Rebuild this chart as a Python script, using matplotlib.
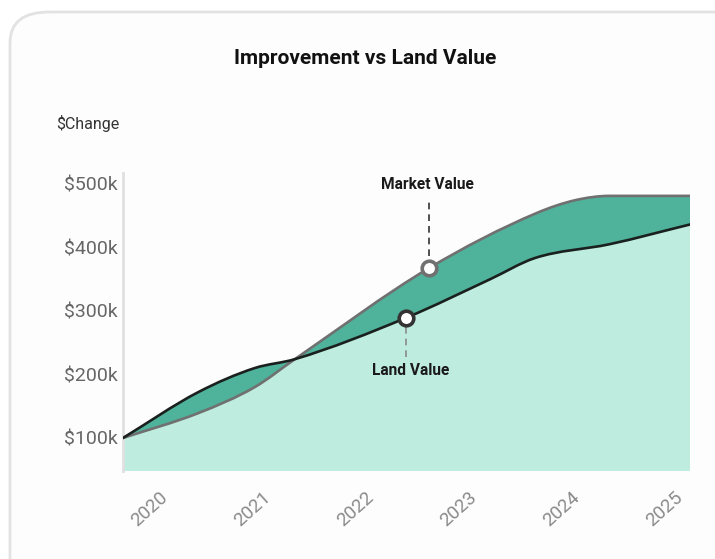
import numpy as np
import matplotlib
matplotlib.use("Agg")
import matplotlib.pyplot as plt
from matplotlib.path import Path
from matplotlib.patches import PathPatch, FancyBboxPatch

plt.rcParams['font.family'] = ['Roboto', 'DejaVu Sans']

# ---- data (values in $k) ----
land_years = [2019.59, 2020.32, 2020.87, 2021.26, 2022.34, 2023.16,
              2023.59, 2024.32, 2025.10]
land_value = [100, 172, 210, 224, 289, 350, 383, 405, 436]
market_years = [2019.59, 2020.32, 2020.87, 2021.26, 2022.56, 2023.61,
                2023.98, 2024.32, 2025.10]
market_value = [100, 139, 180, 224, 367, 454, 474, 481, 481]
tick_years = [2020, 2021, 2022, 2023, 2024, 2025]
tick_labels = ["2020", "2021", "2022", "2023", "2024", "2025"]
y_ticks = [100, 200, 300, 400, 500]
y_tick_labels = ["$100k", "$200k", "$300k", "$400k", "$500k"]
land_marker_idx = 4
market_marker_idx = 4

DARK_FILL = "#4fb29b"
LIGHT_FILL = "#beecde"
MARKET_LINE = "#707070"
LAND_LINE = "#1a201e"


def monotone_tangents(x, y):
    x = np.asarray(x, float); y = np.asarray(y, float)
    h = np.diff(x); d = np.diff(y) / h
    n = len(x)
    m = np.zeros(n)
    m[0] = d[0]; m[-1] = d[-1]
    for k in range(1, n - 1):
        if d[k - 1] * d[k] <= 0:
            m[k] = 0
        else:
            m[k] = (d[k - 1] + d[k]) / 2
    for k in range(n - 1):
        if d[k] == 0:
            m[k] = 0; m[k + 1] = 0
            continue
        a = m[k] / d[k]; b = m[k + 1] / d[k]
        s = a * a + b * b
        if s > 9:
            t = 3 / np.sqrt(s)
            m[k] = t * a * d[k]; m[k + 1] = t * b * d[k]
    return m


def bezier_segments(x, y):
    x = np.asarray(x, float); y = np.asarray(y, float)
    m = monotone_tangents(x, y)
    segs = []
    for k in range(len(x) - 1):
        h = x[k + 1] - x[k]
        c1 = (x[k] + h / 3, y[k] + m[k] * h / 3)
        c2 = (x[k + 1] - h / 3, y[k + 1] - m[k + 1] * h / 3)
        segs.append(((x[k], y[k]), c1, c2, (x[k + 1], y[k + 1])))
    return segs


def curve_path(x, y):
    segs = bezier_segments(x, y)
    verts = [segs[0][0]]; codes = [Path.MOVETO]
    for s in segs:
        verts += [s[1], s[2], s[3]]; codes += [Path.CURVE4] * 3
    return Path(verts, codes)


def band_path(xa, ya, xb, yb):
    sa = bezier_segments(xa, ya)
    sb = bezier_segments(xb, yb)
    verts = [sa[0][0]]; codes = [Path.MOVETO]
    for s in sa:
        verts += [s[1], s[2], s[3]]; codes += [Path.CURVE4] * 3
    verts.append(sb[-1][3]); codes.append(Path.LINETO)
    for s in reversed(sb):
        verts += [s[2], s[1], s[0]]; codes += [Path.CURVE4] * 3
    verts.append(sa[0][0]); codes.append(Path.CLOSEPOLY)
    return Path(verts, codes)


W, H = 715, 559
fig = plt.figure(figsize=(W / 100, H / 100), dpi=100)
fig.patch.set_facecolor("white")

# card
card = FancyBboxPatch((10 / W, -0.2), 1.2, (559 - 12) / H + 0.2,
                      boxstyle="round,pad=0,rounding_size=0.055",
                      transform=fig.transFigure, facecolor="#fdfdfd",
                      edgecolor="#e2e2e2", linewidth=2, zorder=-10)
fig.patches.append(card)

ax = fig.add_axes([123 / W, 1 - 471 / H, (690 - 123) / W, (471 - 173) / H])
ax.set_zorder(5)
ax.set_facecolor("none")
ax.set_xlim(2019.59, 2025.10)
ax.set_ylim(48, 517)

bottom = 0
# light fill below land value
light = band_path(land_years, land_value, [land_years[0], land_years[-1]],
                  [bottom, bottom])
ax.add_patch(PathPatch(light, facecolor=LIGHT_FILL, edgecolor="none", zorder=1))
# dark band between market and land
band = band_path(market_years, market_value, land_years, land_value)
ax.add_patch(PathPatch(band, facecolor=DARK_FILL, edgecolor="none", zorder=2))

ax.add_patch(PathPatch(curve_path(market_years, market_value), facecolor="none",
                       edgecolor=MARKET_LINE, linewidth=1.9, zorder=3,
                       capstyle="round", joinstyle="round"))
ax.add_patch(PathPatch(curve_path(land_years, land_value), facecolor="none",
                       edgecolor=LAND_LINE, linewidth=1.9, zorder=4,
                       capstyle="round", joinstyle="round"))

# markers
mx = market_years[market_marker_idx]; my = market_value[market_marker_idx]
lx = land_years[land_marker_idx]; ly = land_value[land_marker_idx]
ax.plot([mx], [my], 'o', ms=10.5, mfc="white", mec=MARKET_LINE, mew=2.6,
        zorder=6)
ax.plot([lx], [ly], 'o', ms=10.5, mfc="white", mec="#333333", mew=2.6,
        zorder=6)

# annotations
ax.plot([mx, mx], [my + 19, my + 110], color="#333333", lw=1.2,
        dashes=(4, 3), zorder=5)
ax.text(mx - 0.015, my + 132, "Market Value", ha="center", va="center",
        fontsize=11.2, fontweight="bold", color="#1a1a1a")
ax.plot([lx, lx], [ly - 14, ly - 62], color="#8a8a8a", lw=1.2,
        dashes=(4, 3), zorder=5)
ax.text(lx + 0.045, ly - 83, "Land Value", ha="center", va="center",
        fontsize=11.2, fontweight="bold", color="#1a1a1a")

# axes styling
for s in ["top", "right", "bottom"]:
    ax.spines[s].set_visible(False)
ax.spines["left"].set_color("#e0e0e0")
ax.spines["left"].set_linewidth(2)
ax.set_yticks(y_ticks)
ax.set_yticklabels(y_tick_labels)
ax.set_xticks(tick_years)
ax.set_xticklabels(tick_labels, rotation=42, ha="right", va="center",
                   rotation_mode="anchor")
ax.tick_params(axis="y", length=0, pad=4, labelsize=14, labelcolor="#666666")
ax.tick_params(axis="x", length=0, pad=17, labelsize=13.5, labelcolor="#8a8a8a")

fig.text(365 / W, 1 - 58 / H, "Improvement vs Land Value", ha="center",
         va="center", fontsize=15, fontweight="bold", color="#111111")
fig.text(56 / W, 1 - 123 / H, "$Change", ha="left", va="center",
         fontsize=11.5, color="#333333")

fig.savefig("out.png", dpi=100)
